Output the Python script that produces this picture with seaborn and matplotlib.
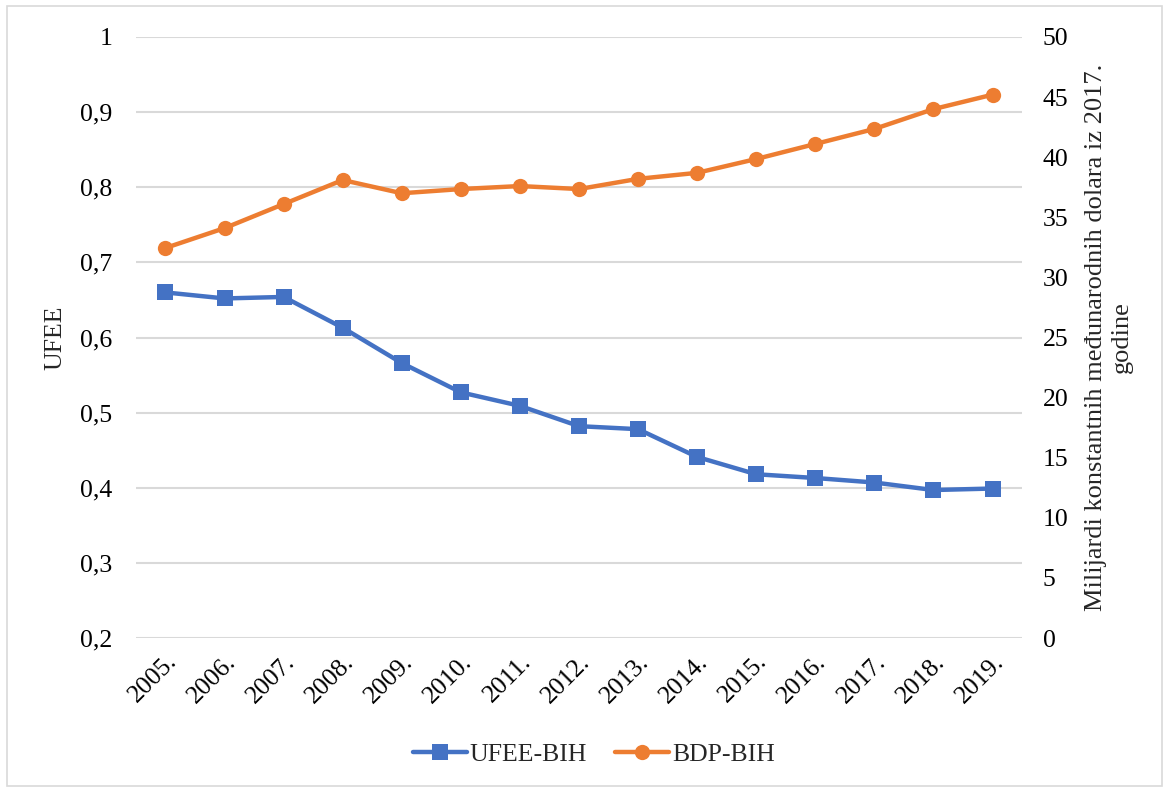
import matplotlib
matplotlib.use("Agg")
import matplotlib.pyplot as plt
import seaborn as sns
import pandas as pd
from matplotlib.patches import Rectangle

years = ["2005.", "2006.", "2007.", "2008.", "2009.", "2010.", "2011.", "2012.",
         "2013.", "2014.", "2015.", "2016.", "2017.", "2018.", "2019."]
ufee_bih = [0.660, 0.652, 0.654, 0.613, 0.566, 0.527, 0.509, 0.482,
            0.478, 0.441, 0.418, 0.413, 0.407, 0.397, 0.399]
bdp_bih = [32.45, 34.1, 36.1, 38.1, 37.0, 37.35, 37.6, 37.35,
           38.2, 38.7, 39.85, 41.1, 42.35, 44.0, 45.2]
left_ticks = [0.2, 0.3, 0.4, 0.5, 0.6, 0.7, 0.8, 0.9, 1.0]
left_labels = ["0,2", "0,3", "0,4", "0,5", "0,6", "0,7", "0,8", "0,9", "1"]
right_ticks = [0, 5, 10, 15, 20, 25, 30, 35, 40, 45, 50]

sns.set_theme(style="white")
plt.rcParams["font.family"] = ["Liberation Serif", "DejaVu Serif"]

BLUE = "#4472C4"
ORANGE = "#ED7D31"
GRID = "#D9D9D9"
FS = 18.5

df = pd.DataFrame({"year": years, "ufee": ufee_bih, "bdp": bdp_bih})
df["x"] = range(len(years))

fig = plt.figure(figsize=(11.69, 7.92), dpi=100)
fig.patches.append(Rectangle((0.006, 0.008), 0.988, 0.984, transform=fig.transFigure,
                             fill=False, edgecolor="#D9D9D9", linewidth=1.2))

ax = fig.add_axes([0.1163, 0.1944, 0.7580, 0.7589])
ax2 = ax.twinx()

sns.lineplot(data=df, x="x", y="ufee", ax=ax, color=BLUE, linewidth=3.2,
             marker="s", markersize=11, markeredgewidth=0, label="UFEE-BIH", legend=False)
sns.lineplot(data=df, x="x", y="bdp", ax=ax2, color=ORANGE, linewidth=3.2,
             marker="o", markersize=11, markeredgewidth=0, label="BDP-BIH", legend=False)

ax.set_xlim(-0.5, len(years) - 0.5)
ax.set_ylim(0.2, 1.0)
ax2.set_ylim(0, 50)

ax.set_yticks(left_ticks)
ax.set_yticklabels(left_labels, fontsize=FS)
ax2.set_yticks(right_ticks)
ax2.set_yticklabels([str(t) for t in right_ticks], fontsize=FS)

ax.set_xticks(df["x"])
ax.set_xticklabels(years, fontsize=FS, rotation=45, ha="right", rotation_mode="anchor")

ax.grid(axis="y", color=GRID, linewidth=1.5)
ax.grid(axis="x", visible=False)
ax2.grid(False)
ax.set_axisbelow(True)

for a in (ax, ax2):
    for s in a.spines.values():
        s.set_visible(False)
ax.tick_params(axis="y", length=0, pad=17, colors="black")
ax.tick_params(axis="x", length=0, pad=9, colors="black")
ax2.tick_params(axis="y", length=0, pad=15, colors="black")

ax.set_xlabel("")
ax.set_ylabel("UFEE", fontsize=FS, labelpad=10)
ax2.set_ylabel("Milijardi konstantnih međunarodnih dolara iz 2017.\ngodine",
               fontsize=19, rotation=90, labelpad=12, multialignment="center")

h1, l1 = ax.get_legend_handles_labels()
h2, l2 = ax2.get_legend_handles_labels()
fig.legend(h1 + h2, l1 + l2, loc="center", bbox_to_anchor=(0.508, 0.047), ncol=2,
           frameon=False, fontsize=FS, handlelength=2.1, columnspacing=1.1,
           handletextpad=0.1)

fig.savefig("out.png", dpi=100)
